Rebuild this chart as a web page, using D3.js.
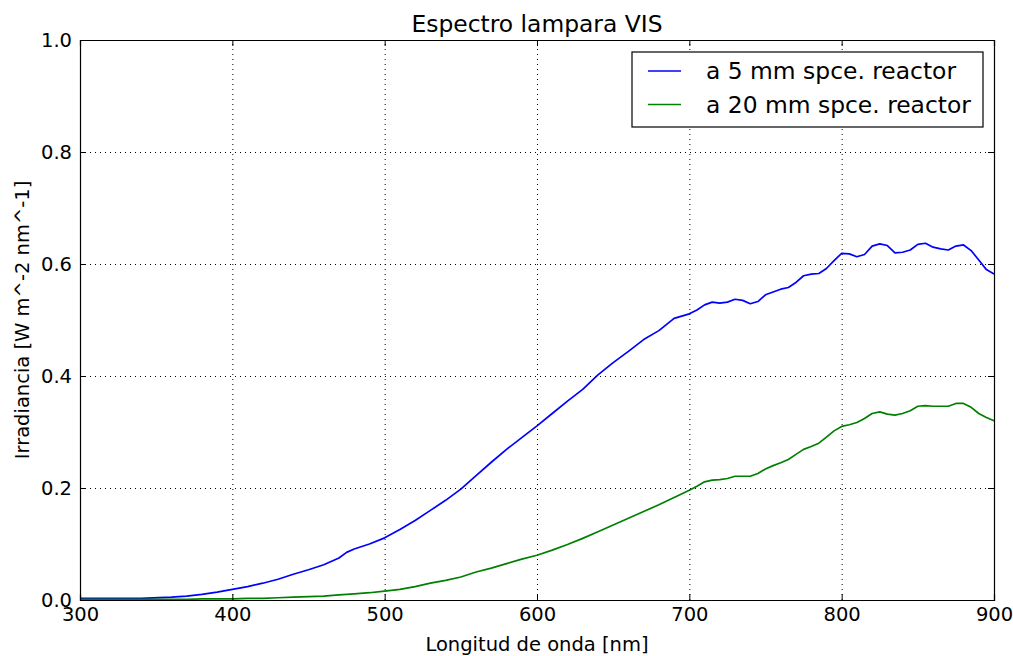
<!DOCTYPE html>
<html>
<head>
<meta charset="utf-8">
<script src="https://cdn.jsdelivr.net/npm/d3@7"></script>
<style>
  body { margin: 0; background: #fff; }
  svg { font-family: "DejaVu Sans", sans-serif; }
</style>
</head>
<body>
<svg id="chart" width="1013" height="656"></svg>
<script>
// wavelengths in nm, shared by both series
var wavelengths = [300, 320, 340, 360, 370, 380, 390, 400, 410, 420, 430, 440, 450, 460, 470, 475, 480, 490,
	500, 510, 520, 530, 540, 550, 560, 570, 580, 590, 600, 610, 620, 630, 640, 650, 660, 670, 680, 690,
	700, 705, 710, 715, 720, 725, 730, 735, 740, 745, 750, 755, 760, 765, 770, 775, 780, 785, 790, 795,
	800, 805, 810, 815, 820, 825, 830, 835, 840, 845, 850, 855, 860, 865, 870, 875, 880, 885, 890, 895, 900];

// irradiance at 5 mm from the reactor
var irr5mm = [0.003, 0.003, 0.003, 0.005, 0.007, 0.010, 0.014, 0.019, 0.024, 0.030, 0.037, 0.046, 0.054, 0.063, 0.075, 0.085, 0.091, 0.100,
	0.111, 0.126, 0.142, 0.160, 0.178, 0.198, 0.222, 0.246, 0.269, 0.290, 0.311, 0.333, 0.355, 0.376, 0.402, 0.424, 0.444, 0.465, 0.481, 0.503,
	0.511, 0.518, 0.527, 0.532, 0.530, 0.532, 0.537, 0.535, 0.529, 0.533, 0.545, 0.550, 0.555, 0.558, 0.567, 0.579, 0.582, 0.583, 0.592, 0.606,
	0.619, 0.618, 0.613, 0.617, 0.632, 0.636, 0.633, 0.620, 0.621, 0.625, 0.635, 0.637, 0.630, 0.627, 0.625, 0.632, 0.634, 0.624, 0.607, 0.590, 0.582];

// irradiance at 20 mm from the reactor
var irr20mm = [0.001, 0.001, 0.001, 0.001, 0.001, 0.002, 0.002, 0.002, 0.003, 0.003, 0.004, 0.005, 0.006, 0.007, 0.009, 0.010, 0.011, 0.013,
	0.016, 0.019, 0.024, 0.030, 0.035, 0.041, 0.050, 0.057, 0.065, 0.073, 0.080, 0.089, 0.099, 0.110, 0.122, 0.134, 0.146, 0.158, 0.170, 0.183,
	0.196, 0.203, 0.211, 0.214, 0.215, 0.217, 0.221, 0.221, 0.221, 0.226, 0.234, 0.240, 0.245, 0.251, 0.260, 0.269, 0.274, 0.280, 0.291, 0.302,
	0.310, 0.313, 0.317, 0.324, 0.333, 0.336, 0.332, 0.330, 0.333, 0.338, 0.346, 0.347, 0.346, 0.346, 0.346, 0.351, 0.351, 0.344, 0.333, 0.326, 0.320];

var xTicks = [300, 400, 500, 600, 700, 800, 900];
var yTicks = [0.0, 0.2, 0.4, 0.6, 0.8, 1.0];
var seriesNames = ["a 5 mm spce. reactor", "a 20 mm spce. reactor"];
var seriesColors = ["#0000ff", "#008000"];

var margin = {top: 40, right: 19, bottom: 56, left: 80},
	width = 1013 - margin.left - margin.right,
	height = 656 - margin.top - margin.bottom;

var x = d3.scaleLinear().domain([300, 900]).range([0, width]);
var y = d3.scaleLinear().domain([0, 1]).range([height, 0]);

var svg = d3.select("#chart")
  .append("g")
	.attr("transform", "translate(" + margin.left + "," + margin.top + ")");

// dotted grid
svg.append("g")
	.attr("class", "grid")
	.attr("transform", "translate(0," + height + ")")
	.call(d3.axisBottom(x).tickValues(xTicks).tickSize(-height).tickFormat(""));
svg.append("g")
	.attr("class", "grid")
	.call(d3.axisLeft(y).tickValues(yTicks).tickSize(-width).tickFormat(""));
svg.selectAll(".grid .domain").remove();
svg.selectAll(".grid line")
	.attr("stroke", "#000")
	.attr("stroke-width", 1)
	.attr("stroke-dasharray", "1,4");

// series lines
var series = [irr5mm, irr20mm];
var line = d3.line()
	.x(function(d, i) { return x(wavelengths[i]); })
	.y(function(d) { return y(d); });

series.forEach(function(vals, k) {
	svg.append("path")
		.attr("d", line(vals))
		.attr("fill", "none")
		.attr("stroke", seriesColors[k])
		.attr("stroke-width", 1.7)
		.attr("stroke-linejoin", "round");
});

// axes with inward ticks on all four sides
svg.append("g")
	.attr("transform", "translate(0," + height + ")")
	.call(d3.axisBottom(x).tickValues(xTicks).tickSize(-6).tickPadding(7).tickFormat(d3.format("d")));
svg.append("g")
	.call(d3.axisLeft(y).tickValues(yTicks).tickSize(-6).tickPadding(8).tickFormat(d3.format(".1f")));
svg.append("g")
	.call(d3.axisTop(x).tickValues(xTicks).tickSize(-6).tickFormat(""));
svg.append("g")
	.attr("transform", "translate(" + width + ",0)")
	.call(d3.axisRight(y).tickValues(yTicks).tickSize(-6).tickFormat(""));

svg.selectAll(".domain").attr("stroke", "#000").attr("stroke-width", 1.2);
svg.selectAll(".tick text")
	.attr("font-family", "DejaVu Sans")
	.attr("font-size", 19.5)
	.attr("fill", "#000");

// title and axis labels
svg.append("text")
	.attr("x", width / 2)
	.attr("y", -8)
	.attr("text-anchor", "middle")
	.attr("font-size", 23.4)
	.text("Espectro lampara VIS");

svg.append("text")
	.attr("x", width / 2)
	.attr("y", height + 51)
	.attr("text-anchor", "middle")
	.attr("font-size", 19.5)
	.text("Longitud de onda [nm]");

svg.append("text")
	.attr("transform", "translate(-51," + (height / 2) + ") rotate(-90)")
	.attr("text-anchor", "middle")
	.attr("font-size", 19.5)
	.text("Irradiancia [W m^-2 nm^-1]");

// legend
var legend = svg.append("g")
	.attr("transform", "translate(" + (632 - margin.left) + "," + (52 - margin.top) + ")");
legend.append("rect")
	.attr("width", 351)
	.attr("height", 75)
	.attr("fill", "#fff")
	.attr("stroke", "#000")
	.attr("stroke-width", 1.2);

seriesNames.forEach(function(name, k) {
	var row = legend.append("g")
		.attr("transform", "translate(0," + (19 + k * 33.5) + ")");
	row.append("line")
		.attr("x1", 16)
		.attr("x2", 49)
		.attr("stroke", seriesColors[k])
		.attr("stroke-width", 1.7);
	row.append("text")
		.attr("x", 74)
		.attr("y", 8)
		.attr("font-size", 23.4)
		.text(name);
});
</script>
</body>
</html>
